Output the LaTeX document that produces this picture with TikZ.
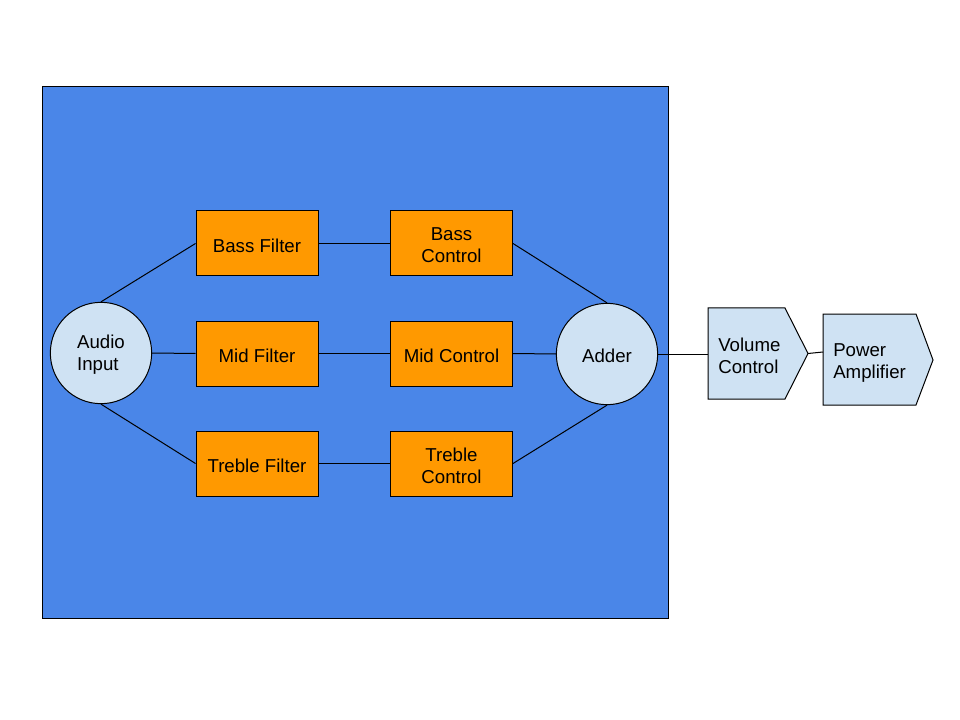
\documentclass[tikz,border=0pt]{standalone}
\usepackage{fontspec}
\setmainfont{Liberation Sans}
\definecolor{panelblue}{HTML}{4A86E8}
\definecolor{boxorange}{HTML}{FF9900}
\definecolor{paleblue}{HTML}{CFE2F3}
\begin{document}
\begin{tikzpicture}[x=0.75pt,y=-0.75pt,
  every node/.style={font=\fontsize{14}{16.5}\selectfont},
  lab/.style={align=center,inner sep=0pt,yshift=-1.5pt},
  panel/.style={draw=black,line width=0.75pt,fill=panelblue},
  disc/.style={circle,draw=black,line width=0.75pt,fill=paleblue,minimum size=76pt,inner sep=0pt},
  filt/.style={rectangle,draw=black,line width=0.75pt,fill=boxorange,minimum width=91.5pt,minimum height=48.75pt,inner sep=0pt},
  stage/.style={draw=black,line width=0.75pt,fill=paleblue,line join=miter},
  wire/.style={draw=black,line width=0.75pt}]
\useasboundingbox (0,0) rectangle (960,720);
\fill[white] (0,0) rectangle (960,720);

% equaliser panel
\draw[panel] (42,87) rectangle (668,618);

% input and summing stages
\node[disc,label={[lab,align=left]center:{Audio\\Input}}] (in) at (101,353) {};
\node[disc,label={[lab,yshift=0.5pt]center:{Adder}}] (add) at (607,354) {};

% filter bank
\node[filt,label={[lab]center:{Bass Filter}}] (bf) at (257,243.5) {};
\node[filt,label={[lab]center:{Bass\\Control}}] (bc) at (451.5,243.5) {};
\node[filt,label={[lab]center:{Mid Filter}}] (mf) at (257,353.5) {};
\node[filt,label={[lab]center:{Mid Control}}] (mc) at (451.5,353.5) {};
\node[filt,label={[lab]center:{Treble Filter}}] (tf) at (257,463.5) {};
\node[filt,label={[lab]center:{Treble\\Control}}] (tc) at (451.5,463.5) {};

% output stages
\draw[stage] (708,308) -- (785,308) -- (808,353.5) -- (785,399) -- (708,399) -- cycle;
\node[anchor=west,align=left,inner sep=0pt] (vc) at (718,355.5) {Volume\\Control};
\coordinate (vcW) at (708,354);
\coordinate (vcE) at (808,353.5);

\draw[stage] (823,314) -- (916,314) -- (933,360) -- (916,405) -- (823,405) -- cycle;
\node[anchor=west,align=left,inner sep=0pt] (pa) at (833,363.5) {Power\\Amplifier};
\coordinate (paW) at (823,352);

% signal paths
\draw[wire] (in.north) -- (bf.west);
\draw[wire] (in.east) -- (mf.west);
\draw[wire] (in.south) -- (tf.west);
\draw[wire] (bf.east) -- (bc.west);
\draw[wire] (mf.east) -- (mc.west);
\draw[wire] (tf.east) -- (tc.west);
\draw[wire] (bc.east) -- (add.north);
\draw[wire] (mc.east) -- (add.west);
\draw[wire] (tc.east) -- (add.south);
\draw[wire] (add.east) -- (vcW);
\draw[wire] (vcE) -- (paW);
\end{tikzpicture}
\end{document}
